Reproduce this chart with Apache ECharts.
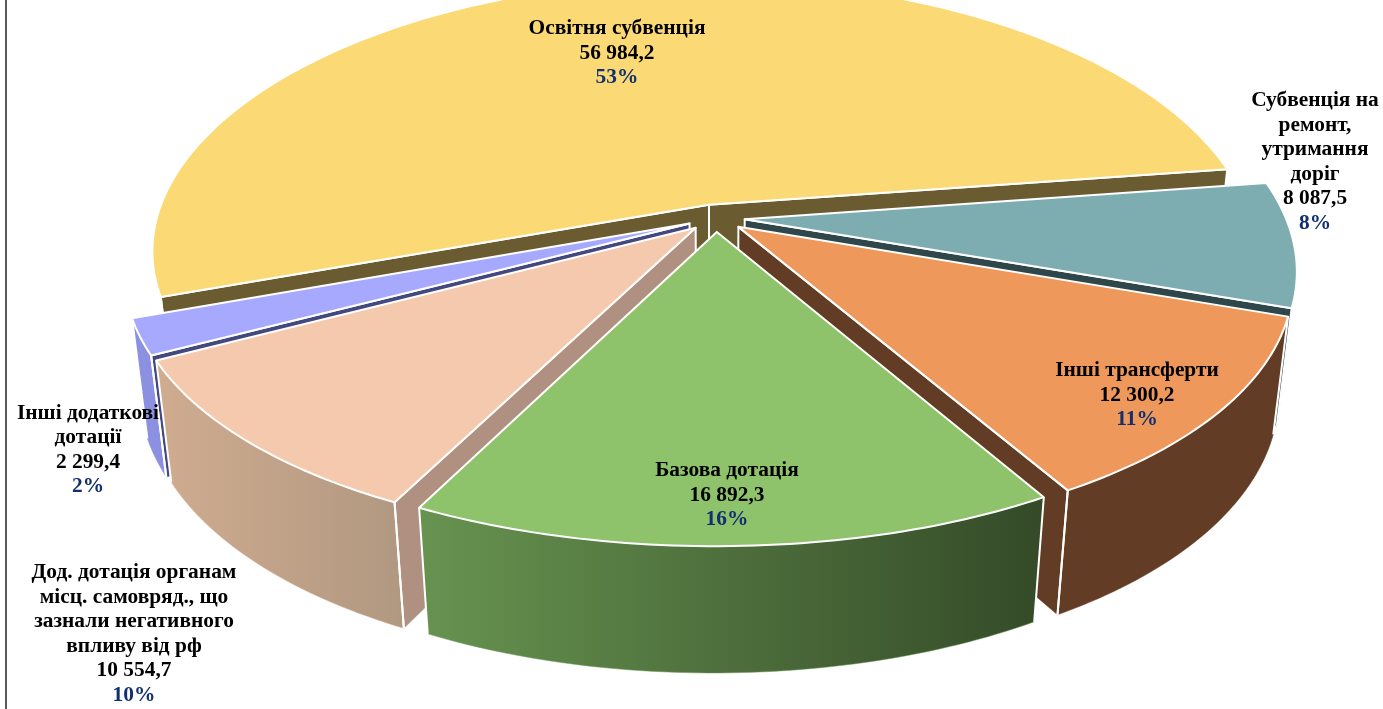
<!DOCTYPE html>
<html><head><meta charset="utf-8">
<style>html,body{margin:0;padding:0;background:#fff}#c{width:1383px;height:709px}</style>
<script src="https://cdn.jsdelivr.net/npm/echarts@6/dist/echarts.min.js"></script>
</head><body><div id="c"></div>
<script>
// Slices in clockwise order, starting at the yellow / teal boundary
const categories = ['Субвенція на\nремонт,\nутримання\nдоріг','Інші трансферти','Базова дотація','Дод. дотація органам\nмісц. самовряд., що\nзазнали негативного\nвпливу від рф','Інші додаткові\nдотації','Освітня субвенція'];
const values = [8087.5,12300.2,16892.3,10554.7,2299.4,56984.2];

const faceColors = ['#7EADB1','#EE985C','#8EC36B','#F5C9AD','#A6A9FD','#FBDA76'];
const sideColors = ['#2F474A','#623C24','#3A5230','#B09080','#43497F','#6B5B30'];
const wallColors = [['#FFFFFF','#FFFFFF'],['#623C24','#623C24'],['#679350','#344A28'],['#D0AC90','#B09880'],['#8C90E0','#8C90E0'],['#D8BC68','#D8BC68']];
const edgeColors = ['#9AA5A8','#FFFFFF','#FFFFFF','#FFFFFF','#FFFFFF','#FFFFFF'];
const paintOrder = [1,4,5,3,2,0];
const labelCentres = [[1315,162],[1137,395],[727,495],[134,634],[88,450],[617,53]];

// Projection of the tilted pie
const view = {cx:716,cy:218,b:576,a:276,p:0.159,px:0.19,xShear:5,q:0.025,yaw:0.008,shear:4,depth:118,explode:0.05,radius:0.95,start:81};
function project(X,Y,Z){
  const d = view.yaw*X + view.q*Z;
  const w = 1/(1 - view.p*Y + d), wx = 1/(1 - view.px*Y + d);
  return [view.cx + (view.b*X*wx - view.xShear*Y), view.cy + (view.a*Y + view.shear*X)*w + view.depth*Z*w];
}
const total = values.reduce((s,v)=>s+v,0);
function fmt(v){
  const s = v.toFixed(1).split('.');
  return s[0].replace(/\B(?=(\d{3})+$)/g,' ')+','+s[1];
}
const rad = d=>d*Math.PI/180;
const ranges = []; { let a=view.start; values.forEach(v=>{const e=a+v/total*360; ranges.push([a,e]); a=e;}); }

function renderItem(params, api){
  const i = params.dataIndex;
  const [s,e] = ranges[i];
  const mid = (s+e)/2;
  const ox = view.explode*Math.sin(rad(mid)), oy = -view.explode*Math.cos(rad(mid));
  const pt = (t,Z)=>project(ox+view.radius*Math.sin(rad(t)), oy-view.radius*Math.cos(rad(t)), Z);
  const apex = Z=>project(ox,oy,Z);
  const z = paintOrder[i]*10;
  const children = [];
  const fillPoly = (points,fill,z2)=>children.push({type:'polygon',z2,shape:{points},style:{fill,stroke:fill.colorStops?fill.colorStops[0].color:fill,lineWidth:0.5}});
  const line = (points,stroke,z2,lw)=>children.push({type:'polyline',z2,shape:{points},style:{fill:null,stroke,lineWidth:lw,lineJoin:'round'}});
  // outer wall, visible part only
  const n = Math.max(2,Math.ceil(e-s));
  let run = [];
  const flush = ()=>{
    if(run.length>1){
      const top = run.map(t=>pt(t,0)), bot = run.map(t=>pt(t,1)).reverse();
      const c = wallColors[i];
      fillPoly(top.concat(bot),new echarts.graphic.LinearGradient(0,0,1,0,[{offset:0,color:c[0]},{offset:1,color:c[1]}]),z+1);
      const ew = edgeColors[i]==='#FFFFFF'?2:1;
      [run[0],run[run.length-1]].forEach(t=>{
        if(t===s||t===e) line([pt(t,0),pt(t,1)],edgeColors[i],z+3,ew);
      });
    }
    run=[];
  };
  for(let k=0;k<=n;k++){
    const t = k===n?e:s+(e-s)*k/n;
    if(-Math.cos(rad(t))>-0.12) run.push(t); else flush();
  }
  flush();
  // radial walls that face the viewer
  [[s,s-90],[e,e+90]].forEach(([t,nrm])=>{
    if(-Math.cos(rad(nrm))>0){
      fillPoly([apex(0),pt(t,0),pt(t,1),apex(1)],sideColors[i],z+2);
      line([apex(1),apex(0),pt(t,0),pt(t,1)],'#fff',z+3,2);
    }
  });
  // top face
  const face = [apex(0)];
  for(let k=0;k<=n;k++) face.push(pt(s+(e-s)*k/n,0));
  children.push({type:'polygon',z2:z+4,shape:{points:face},style:{fill:faceColors[i],stroke:'#fff',lineWidth:2,lineJoin:'round'}});
  // label
  const lines = categories[i].split('\n').map(l=>'{n|'+l+'}');
  lines.push('{n|'+fmt(api.value(0))+'}');
  lines.push('{p|'+Math.round(api.value(0)/total*100)+'%}');
  children.push({type:'text',z2:500,x:labelCentres[i][0],y:labelCentres[i][1],style:{
    text:lines.join('\n'),align:'center',verticalAlign:'middle',
    rich:{
      n:{fontFamily:'Liberation Serif',fontWeight:'bold',fontSize:21.4,lineHeight:24.5,fill:'#000',align:'center'},
      p:{fontFamily:'Liberation Serif',fontWeight:'bold',fontSize:21.4,lineHeight:24.5,fill:'#12306F',align:'center'}
    }
  }});
  return {type:'group',children};
}

const chart = echarts.init(document.getElementById('c'),null,{renderer:'canvas'});
chart.setOption({
  animation:false,
  backgroundColor:'#fff',
  graphic:[{type:'line',silent:true,shape:{x1:6,y1:0,x2:6,y2:709},style:{stroke:'#595959',lineWidth:2}}],
  series:[{type:'custom',coordinateSystem:'none',silent:true,renderItem,
    data:values.map((v,i)=>({value:v,name:categories[i]}))}]
});
</script></body></html>
